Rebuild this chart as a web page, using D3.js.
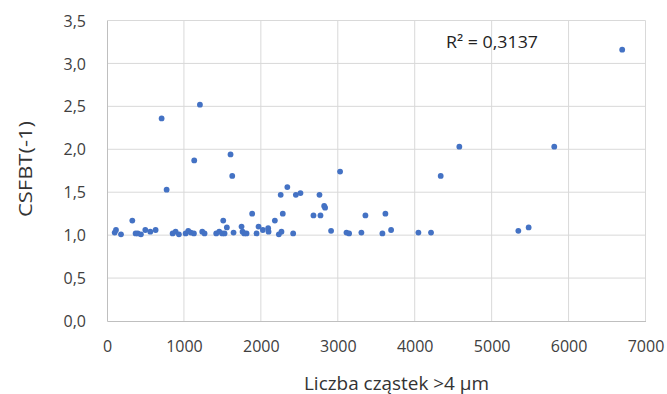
<!DOCTYPE html>
<html><head><meta charset="utf-8">
<script src="https://cdn.jsdelivr.net/npm/d3@7"></script>
<style>
body{margin:0;background:#fff;}
text{font-family:"Open Sans",sans-serif;fill:#404040;}
</style></head>
<body><svg id="c" width="667" height="394"></svg>
<script>
const xValues = [100,117,182,329,372,400,441,498,563,632,710,775,853,892,935,1022,1056,1090,1130,1134,1208,1238,1268,1420,1459,1498,1511,1528,1558,1606,1628,1645,1749,1762,1784,1814,1887,1944,1970,2026,2095,2100,2182,2234,2258,2268,2285,2344,2420,2455,2515,2684,2762,2775,2823,2835,2913,3030,3113,3147,3307,3359,3580,3619,3693,4048,4212,4338,4580,5347,5481,5814,6697];
const yValues = [1.03,1.06,1.01,1.17,1.02,1.02,1.01,1.06,1.04,1.06,2.36,1.53,1.02,1.04,1.01,1.02,1.05,1.03,1.02,1.87,2.52,1.04,1.02,1.02,1.04,1.02,1.17,1.02,1.09,1.94,1.69,1.03,1.10,1.04,1.02,1.02,1.25,1.02,1.10,1.06,1.08,1.04,1.17,1.01,1.47,1.04,1.25,1.56,1.02,1.47,1.49,1.23,1.47,1.23,1.34,1.32,1.05,1.74,1.03,1.02,1.03,1.23,1.02,1.25,1.06,1.03,1.03,1.69,2.03,1.05,1.09,2.03,3.16];
const xTicks = [0,1000,2000,3000,4000,5000,6000,7000];
const yTicks = [0,0.5,1.0,1.5,2.0,2.5,3.0,3.5];
const xTitle = "Liczba cząstek >4 µm";
const yTitle = "CSFBT(-1)";
const r2Label = "R² = 0,3137";

const svg = d3.select("#c");
const x = d3.scaleLinear().domain([0,7000]).range([107,645.5]);
const y = d3.scaleLinear().domain([0,3.5]).range([321,20.5]);
const fmtY = v => d3.format(".1f")(v).replace(".", ",");

// gridlines
svg.append("g").selectAll("line").data(xTicks.slice(1)).join("line")
  .attr("x1",d=>x(d)).attr("x2",d=>x(d)).attr("y1",y(0)).attr("y2",y(3.5))
  .attr("stroke","#d9d9d9").attr("stroke-width",1);
svg.append("g").selectAll("line").data(yTicks.slice(1)).join("line")
  .attr("x1",x(0)).attr("x2",x(7000)).attr("y1",d=>y(d)).attr("y2",d=>y(d))
  .attr("stroke","#d9d9d9").attr("stroke-width",1);

// axes
const xAxis = svg.append("g").attr("transform",`translate(0,${y(0)})`)
  .call(d3.axisBottom(x).tickValues(xTicks).tickSize(0).tickPadding(0).tickFormat(d3.format("d")));
xAxis.select(".domain").attr("stroke","#bfbfbf");
xAxis.selectAll("text").attr("font-size","16px").attr("dy",null).attr("y",31).attr("fill","#333")
  .style("font-family","'Open Sans',sans-serif");

const yAxis = svg.append("g").attr("transform",`translate(${x(0)},0)`)
  .call(d3.axisLeft(y).tickValues(yTicks).tickSize(0).tickPadding(0).tickFormat(fmtY));
yAxis.select(".domain").attr("stroke","#bfbfbf");
yAxis.selectAll("text").attr("font-size","16px").attr("x",-21).attr("dy","0.35em").attr("fill","#333")
  .style("font-family","'Open Sans',sans-serif");

// points
svg.append("g").selectAll("circle").data(xValues.map((v,i)=>[v,yValues[i]])).join("circle")
  .attr("cx",d=>x(d[0])).attr("cy",d=>y(d[1])).attr("r",2.9).attr("fill","#4472c4");

// texts
svg.append("text").attr("x",446).attr("y",48).attr("font-size","17px").style("fill","#222")
  .attr("textLength",92).attr("lengthAdjust","spacingAndGlyphs").text(r2Label);
svg.append("text").attr("x",396.5).attr("y",390).attr("text-anchor","middle").attr("font-size","18px")
  .style("fill","#333").attr("textLength",185).attr("lengthAdjust","spacingAndGlyphs").text(xTitle);
svg.append("text").attr("transform","translate(32,169) rotate(-90)").attr("text-anchor","middle")
  .attr("font-size","18px").style("fill","#333").attr("textLength",96).attr("lengthAdjust","spacingAndGlyphs").text(yTitle);
</script></body></html>
